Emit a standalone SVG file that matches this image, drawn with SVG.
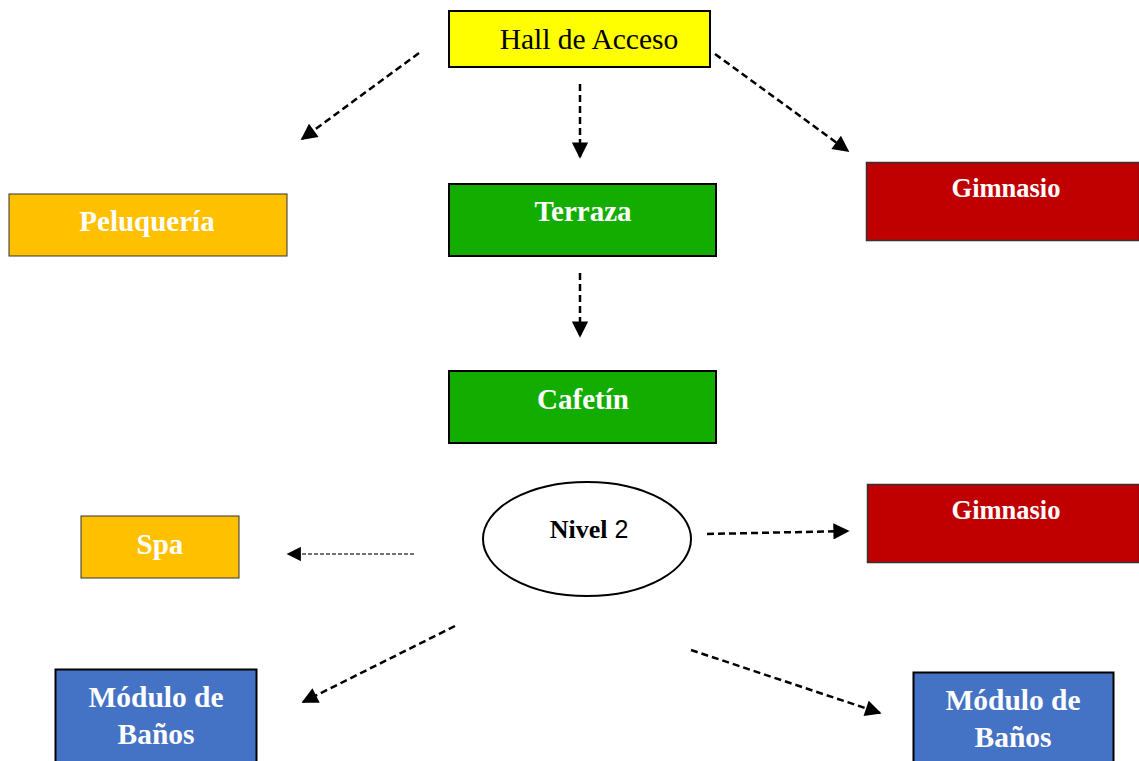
<svg xmlns="http://www.w3.org/2000/svg" width="1139" height="761" viewBox="0 0 1139 761">
<style>
.box{stroke:#000;stroke-width:2}
.lbl{font-family:"Liberation Serif",serif;font-weight:bold;fill:#fff;text-anchor:middle}
.con{fill:none;stroke:#000;stroke-width:2.5;stroke-dasharray:7 4}
.thin{fill:none;stroke:#444;stroke-width:1.3;stroke-dasharray:4 2}
</style>
<defs>
<marker id="ah" viewBox="0 0 10 10" refX="9" refY="5" markerWidth="7" markerHeight="6.5" markerUnits="strokeWidth" orient="auto">
<path d="M0,0 L10,5 L0,10 z" fill="#000"/>
</marker>
<marker id="ah2" viewBox="0 0 10 10" refX="9" refY="5" markerWidth="12" markerHeight="11" markerUnits="strokeWidth" orient="auto">
<path d="M0,0 L10,5 L0,10 z" fill="#000"/>
</marker>
</defs>
<rect width="1139" height="761" fill="#fff"/>
<g id="connectors">
<line class="con" x1="419" y1="53" x2="302" y2="139" marker-end="url(#ah)"/>
<line class="con" x1="580" y1="84" x2="580" y2="157" marker-end="url(#ah)"/>
<line class="con" x1="715" y1="54" x2="848" y2="151" marker-end="url(#ah)"/>
<line class="con" x1="580" y1="273" x2="580" y2="336" marker-end="url(#ah)"/>
<line class="thin" x1="414" y1="554" x2="288" y2="554" marker-end="url(#ah2)"/>
<line class="con" x1="707" y1="534" x2="848" y2="531" marker-end="url(#ah)"/>
<line class="con" x1="455" y1="626" x2="303" y2="702" marker-end="url(#ah)"/>
<line class="con" x1="691" y1="650" x2="880" y2="713" marker-end="url(#ah)"/>
</g>
<g id="hall">
<rect class="box" x="449" y="11" width="261" height="56" fill="#FFFF00"/>
<text x="589" y="49" font-family="Liberation Serif,serif" font-size="29.5" text-anchor="middle" fill="#000">Hall de Acceso</text>
</g>
<g id="terraza">
<rect class="box" x="449" y="184" width="267" height="72" fill="#13AD00"/>
<text class="lbl" x="583" y="221" font-size="29">Terraza</text>
</g>
<g id="cafetin">
<rect class="box" x="449" y="371" width="267" height="72" fill="#13AD00"/>
<text class="lbl" x="583" y="409" font-size="29">Cafetín</text>
</g>
<g id="peluqueria">
<rect x="9" y="194" width="278" height="62" fill="#FFC000" stroke="#333" stroke-width="1"/>
<text class="lbl" x="147" y="231" font-size="29">Peluquería</text>
</g>
<g id="gimnasio1">
<rect x="866.5" y="162.5" width="273" height="78" fill="#C00000" stroke="#333" stroke-width="1.5"/>
<text class="lbl" x="1006" y="197" font-size="26.5">Gimnasio</text>
</g>
<g id="gimnasio2">
<rect x="867.5" y="484.5" width="272" height="78" fill="#C00000" stroke="#333" stroke-width="1.5"/>
<text class="lbl" x="1006" y="519" font-size="26.5">Gimnasio</text>
</g>
<g id="spa">
<rect x="81" y="516" width="158" height="62" fill="#FFC000" stroke="#333" stroke-width="1"/>
<text class="lbl" x="160" y="554" font-size="29">Spa</text>
</g>
<g id="nivel2">
<ellipse cx="587" cy="539" rx="104" ry="57" fill="#fff" stroke="#000" stroke-width="2"/>
<text x="589" y="538" font-size="26" text-anchor="middle" fill="#000"><tspan font-family="Liberation Serif,serif" font-weight="bold">Nivel</tspan><tspan font-family="Liberation Sans,sans-serif" font-size="25"> 2</tspan></text>
</g>
<g id="modulo1">
<rect x="55.5" y="669.5" width="201" height="95" fill="#4472C4" stroke="#000" stroke-width="2"/>
<text class="lbl" x="156" y="707" font-size="29.5">Módulo de</text>
<text class="lbl" x="156" y="744" font-size="29.5">Baños</text>
</g>
<g id="modulo2">
<rect x="913.5" y="672.5" width="200" height="95" fill="#4472C4" stroke="#000" stroke-width="2"/>
<text class="lbl" x="1013" y="710" font-size="29.5">Módulo de</text>
<text class="lbl" x="1013" y="747" font-size="29.5">Baños</text>
</g>
</svg>
